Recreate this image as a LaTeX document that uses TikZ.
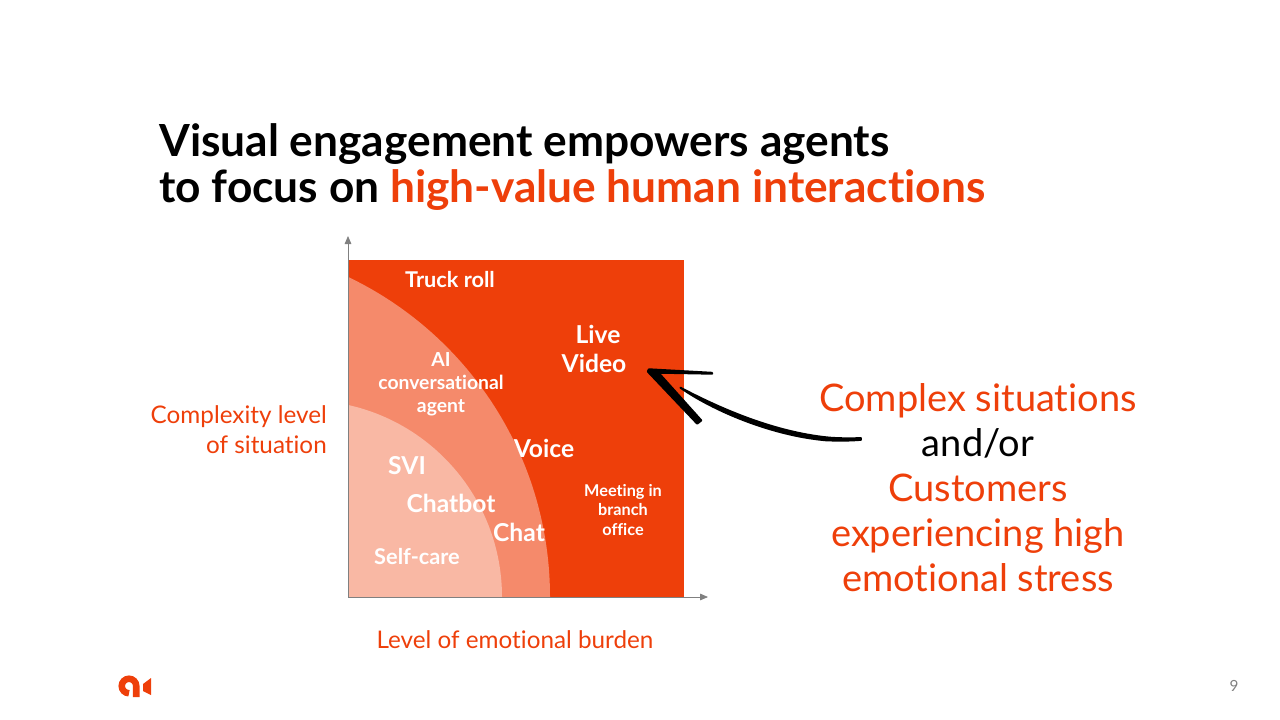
\documentclass[tikz,border=0pt]{standalone}
\usepackage{fontspec}
\usepackage{xcolor}
\setmainfont{Lato}[Ligatures=NoCommon]
\usetikzlibrary{arrows.meta,positioning}
\definecolor{burnorange}{HTML}{EE3F0A}
\definecolor{midorange}{HTML}{F58A6B}
\definecolor{paleorange}{HTML}{F9B8A4}
\definecolor{axisgray}{HTML}{808080}

\begin{document}
\begin{tikzpicture}[
    x=0.75pt, y=-0.75pt,
    every node/.style={align=center, inner sep=0pt},
    heading/.style={font=\bfseries\fontsize{33.2}{34.5}\selectfont, align=left, anchor=west},
    axislabel/.style={text=burnorange, font=\fontsize{18.2}{22}\selectfont},
    biglabel/.style={text=white, font=\bfseries\fontsize{18.5}{21.5}\selectfont},
    midlabel/.style={text=white, font=\bfseries\fontsize{16.3}{17.5}\selectfont},
    smalllabel/.style={text=white, font=\bfseries\fontsize{12.2}{14.5}\selectfont},
    callout/.style={font=\fontsize{28.5}{33.75}\selectfont},
    axis/.style={draw=axisgray, line width=0.6pt, -{Triangle[length=6pt,width=5pt]}},
    brush/.style={fill=black, draw=black, line join=round, line cap=round}
]
\useasboundingbox (0,0) rectangle (1280,720);

% Matrix regions
\fill[burnorange] (348,260) rectangle (684,597);
\begin{scope}
    \clip (348,260) rectangle (684,597);
    \fill[midorange] (195.5,597) circle[radius=354.5];
    \fill[paleorange] (305.3,597) circle[radius=196.7];
\end{scope}

% Axes
\coordinate (origin) at (348,597);
\coordinate (ytip) at (348,236);
\coordinate (xtip) at (708,597);
\draw[axis] (origin) -- (ytip);
\draw[axis] (origin) -- (xtip);

% Title
\node[heading] (title) at (159,167) {Visual engagement empowers agents\\to focus on \textcolor{burnorange}{high-value human interactions}};

% Channels
\node[midlabel] (truck) at (450,280) {Truck roll};
\node[biglabel] (video) at (594,349) {\hspace*{6pt}Live\\Video};
\node[smalllabel, font=\bfseries\fontsize{14.5}{17.2}\selectfont] (agent) at (441,384.5) {AI\\conversational\\agent};
\node[biglabel] (voice) at (544,448) {Voice};
\node[smalllabel] (branch) at (623,510) {Meeting in\\branch\\office};
\node[biglabel] (svi) at (407,466) {SVI};
\node[biglabel] (chatbot) at (451,503) {Chatbot};
\node[biglabel] (chat) at (519,532) {Chat};
\node[midlabel] (selfcare) at (417,557) {Self-care};

% Axis labels
\node[axislabel, align=right, anchor=east] (ylabel) at (327,429.5) {Complexity level\\of situation};
\node[axislabel] (xlabel) at (515,640) {Level of emotional burden};

% Right-hand text
\node[callout] (stress) at (978,488) {\textcolor{burnorange}{Complex situations}\\and/or\\\textcolor{burnorange}{Customers}\\\textcolor{burnorange}{experiencing high}\\\textcolor{burnorange}{emotional stress}};

% Hand drawn arrow
\fill[brush, line width=1.2pt] (680.5,387.5) .. controls (712,404) and (770,432) .. (830,437.5) .. controls (845,438.5) and (852,438) .. (861,438) -- (861,440) .. controls (850,441) and (838,441) .. (826,440.5) .. controls (770,435.5) and (712,410) .. (680.5,388) -- cycle;
\fill[brush, line width=1.8pt] (649,369.5) -- (712,373) -- (712,373.5) -- (658,372.5) -- (701,420.4) -- (697.2,423.4) -- (648,371.5) -- cycle;

% Logo
\draw[burnorange, line width=4.9pt] (129,693.25) arc[start angle=-90, end angle=-360, radius=5.44pt] -- (136.25,697);
\fill[burnorange] (143,684) -- (151,678) -- (151,695) -- (143,691) -- cycle;

% Page number
\node[text=axisgray, font=\fontsize{11.5}{14}\selectfont] (pagenum) at (1234,686) {9};
\end{tikzpicture}
\end{document}
